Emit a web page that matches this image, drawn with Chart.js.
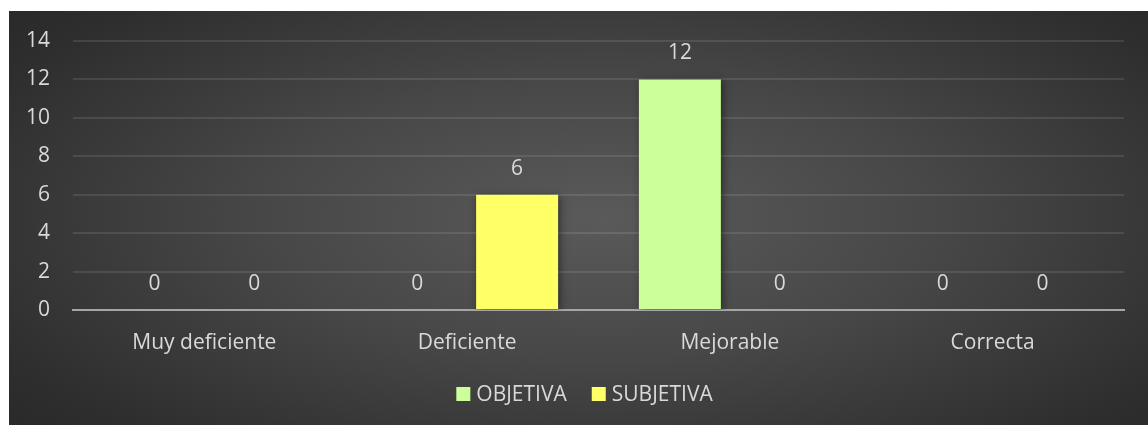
<!DOCTYPE html>
<html>
<head>
<meta charset="utf-8">
<script src="https://cdn.jsdelivr.net/npm/chart.js@4"></script>
<style>
  html, body { margin: 0; padding: 0; background: #ffffff; }
  #wrap {
    position: absolute; left: 9px; top: 11px; width: 1139px; height: 414px;
    background: radial-gradient(ellipse 75% 85% at 52% 50%, #5a5a5a 0%, #474747 40%, #2e2e2e 80%, #262626 100%);
  }
  canvas { display: block; }
</style>
</head>
<body>
<div id="wrap"><canvas id="c" width="1139" height="414"></canvas></div>
<script>
const categories = ["Muy deficiente", "Deficiente", "Mejorable", "Correcta"];
const objetiva = [0, 0, 12, 0];
const subjetiva = [0, 6, 0, 0];
const yTicks = [0, 2, 4, 6, 8, 10, 12, 14];
const seriesNames = ["OBJETIVA", "SUBJETIVA"];
const seriesColors = ["#ccff99", "#ffff66"];

const FONT = "'Open Sans', sans-serif";
const FS = 21;
const TXT = "#d9d9d9";

const valueLabels = {
  id: "valueLabels",
  afterDatasetsDraw(chart) {
    const ctx = chart.ctx;
    ctx.save();
    ctx.fillStyle = TXT;
    ctx.font = FS + "px " + FONT;
    ctx.textAlign = "center";
    ctx.textBaseline = "middle";
    chart.data.datasets.forEach((ds, i) => {
      const meta = chart.getDatasetMeta(i);
      meta.data.forEach((bar, j) => {
        ctx.fillText(String(ds.data[j]), bar.x, bar.y - 26);
      });
    });
    ctx.restore();
  }
};

// y tick labels drawn through the y scale
const yLabels = {
  id: "yLabels",
  afterDraw(chart) {
    const ctx = chart.ctx, y = chart.scales.y;
    ctx.save();
    ctx.fillStyle = TXT;
    ctx.font = FS + "px " + FONT;
    ctx.textAlign = "right";
    ctx.textBaseline = "middle";
    yTicks.forEach(v => ctx.fillText(String(v), chart.chartArea.left - 23, y.getPixelForValue(v)));
    ctx.restore();
  }
};

const barShadow = {
  id: "barShadow",
  beforeDatasetsDraw(chart) {
    const ctx = chart.ctx;
    ctx.save();
    ctx.shadowColor = "rgba(0,0,0,0.45)";
    ctx.shadowBlur = 8;
    ctx.shadowOffsetX = 2;
    ctx.shadowOffsetY = 2;
  },
  afterDatasetsDraw(chart) {
    chart.ctx.restore();
  }
};

const customLegend = {
  id: "customLegend",
  afterDraw(chart) {
    const ctx = chart.ctx;
    ctx.save();
    ctx.font = FS + "px " + FONT;
    ctx.textBaseline = "middle";
    ctx.textAlign = "left";
    const box = 14, gapText = 6, gapItem = 25;
    const items = chart.data.datasets.map(ds => ({ label: ds.label, color: ds.backgroundColor, w: ctx.measureText(ds.label).width }));
    let total = 0;
    items.forEach((it, i) => { total += box + gapText + it.w + (i < items.length - 1 ? gapItem : 0); });
    const cx = (chart.chartArea.left + chart.chartArea.right) / 2 - 14;
    const cy = chart.scales.x.bottom + 32;
    let x = cx - total / 2;
    items.forEach(it => {
      ctx.fillStyle = it.color;
      ctx.fillRect(x, cy - box / 2, box, box);
      x += box + gapText;
      ctx.fillStyle = TXT;
      ctx.fillText(it.label, x, cy + 1);
      x += it.w + gapItem;
    });
    ctx.restore();
  }
};

new Chart(document.getElementById("c"), {
  type: "bar",
  data: {
    labels: categories,
    datasets: [
      { label: seriesNames[0], data: objetiva, backgroundColor: seriesColors[0], borderWidth: 0 },
      { label: seriesNames[1], data: subjetiva, backgroundColor: seriesColors[1], borderWidth: 0 }
    ]
  },
  options: {
    responsive: false,
    animation: false,
    maintainAspectRatio: false,
    layout: { padding: { left: 0, top: 30, right: 24, bottom: 63 } },
    datasets: { bar: { categoryPercentage: 0.761, barPercentage: 0.82 } },
    plugins: {
      legend: { display: false },
      tooltip: { enabled: false }
    },
    scales: {
      x: {
        grid: { display: false, drawTicks: false },
        border: { display: true, color: "#a6a6a6", width: 2 },
        ticks: { color: TXT, font: { family: FONT, size: FS }, padding: 20 },
        afterFit(s) { s.height = 52; }
      },
      y: {
        min: 0, max: 14,
        afterBuildTicks(s) { s.ticks = yTicks.map(v => ({ value: v })); },
        grid: { color: "rgba(255,255,255,0.10)", lineWidth: 2, drawTicks: false },
        border: { display: false },
        ticks: { display: false },
        afterFit(s) { s.width = 64; }
      }
    }
  },
  plugins: [barShadow, valueLabels, yLabels, customLegend]
});
</script>
</body>
</html>
